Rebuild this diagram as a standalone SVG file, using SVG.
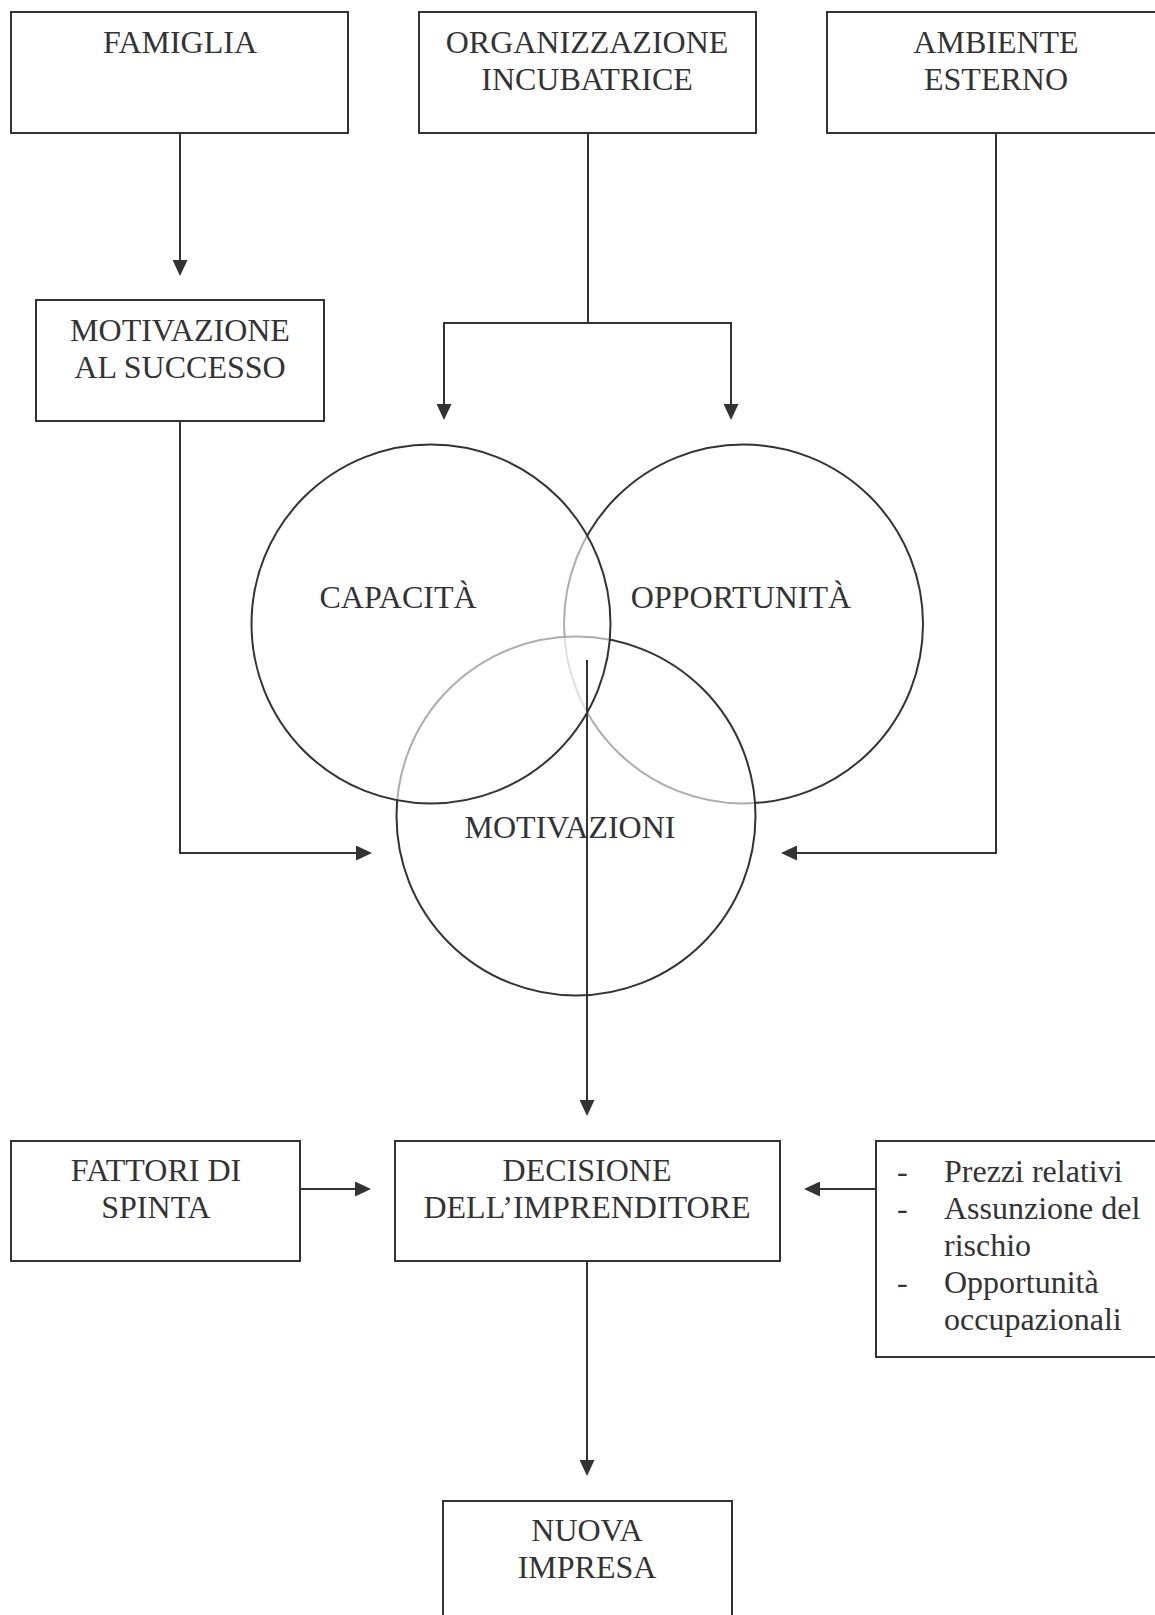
<svg xmlns="http://www.w3.org/2000/svg" width="1155" height="1615" viewBox="0 0 1155 1615">
  <defs>
    <style>
      .box { fill: #ffffff; stroke: #333333; stroke-width: 2; }
      .lbl { font-family: "Liberation Serif", "Times New Roman", serif; font-size: 32px; fill: #333333; text-anchor: middle; }
      .lst { font-family: "Liberation Serif", "Times New Roman", serif; font-size: 32px; fill: #333333; }
      .conn { fill: none; stroke: #333333; stroke-width: 2; }
      .circ { stroke: #333333; stroke-width: 2; }
    </style>
    <marker id="arrow" viewBox="0 0 16 15" refX="0" refY="7.5" markerWidth="16" markerHeight="15" markerUnits="userSpaceOnUse" orient="auto">
      <path d="M0,0 L16,7.5 L0,15 Z" fill="#333333"/>
    </marker>
  </defs>
  <rect width="1155" height="1615" fill="#ffffff"/>

  <g id="famiglia">
    <rect class="box" x="11" y="12" width="337" height="121"/>
    <text class="lbl" x="180" y="53">FAMIGLIA</text>
  </g>
  <g id="organizzazione">
    <rect class="box" x="419" y="12" width="337" height="121"/>
    <text class="lbl" x="587" y="53">ORGANIZZAZIONE</text>
    <text class="lbl" x="587" y="90">INCUBATRICE</text>
  </g>
  <g id="ambiente">
    <rect class="box" x="827" y="12" width="340" height="121"/>
    <text class="lbl" x="996" y="53">AMBIENTE</text>
    <text class="lbl" x="996" y="90">ESTERNO</text>
  </g>
  <g id="motivazione-successo">
    <rect class="box" x="36" y="300" width="288" height="121"/>
    <text class="lbl" x="180" y="341">MOTIVAZIONE</text>
    <text class="lbl" x="180" y="378">AL SUCCESSO</text>
  </g>

  <g id="venn">
    <g id="opportunita">
      <circle class="circ" cx="743.5" cy="624" r="179.5" fill="none"/>
    </g>
    <g id="motivazioni">
      <circle class="circ" cx="576" cy="816" r="179.5" fill="#ffffff" fill-opacity="0.6"/>
    </g>
    <g id="capacita">
      <circle class="circ" cx="431" cy="624" r="179.5" fill="#ffffff" fill-opacity="0.6"/>
    </g>
  </g>

  <g id="fattori">
    <rect class="box" x="11" y="1141" width="289" height="120"/>
    <text class="lbl" x="156" y="1181">FATTORI DI</text>
    <text class="lbl" x="156" y="1218">SPINTA</text>
  </g>
  <g id="decisione">
    <rect class="box" x="395" y="1141" width="385" height="120"/>
    <text class="lbl" x="587" y="1181">DECISIONE</text>
    <text class="lbl" x="587" y="1218">DELL’IMPRENDITORE</text>
  </g>
  <g id="fattori-esterni">
    <rect class="box" x="876" y="1141" width="300" height="216"/>
    <text class="lst" x="897" y="1182">-</text>
    <text class="lst" x="944" y="1182">Prezzi relativi</text>
    <text class="lst" x="897" y="1219">-</text>
    <text class="lst" x="944" y="1219">Assunzione del</text>
    <text class="lst" x="944" y="1256">rischio</text>
    <text class="lst" x="897" y="1293">-</text>
    <text class="lst" x="944" y="1293">Opportunità</text>
    <text class="lst" x="944" y="1330">occupazionali</text>
  </g>
  <g id="nuova-impresa">
    <rect class="box" x="443" y="1501" width="289" height="130"/>
    <text class="lbl" x="587" y="1541">NUOVA</text>
    <text class="lbl" x="587" y="1578">IMPRESA</text>
  </g>

  <g id="connectors">
    <path class="conn" d="M180,133 V260" marker-end="url(#arrow)"/>
    <path class="conn" d="M588,133 V323 H444 V404" marker-end="url(#arrow)"/>
    <path class="conn" d="M588,323 H731 V404" marker-end="url(#arrow)"/>
    <path class="conn" d="M180,421 V853 H356" marker-end="url(#arrow)"/>
    <path class="conn" d="M996,133 V853 H797" marker-end="url(#arrow)"/>
    <path class="conn" d="M587,660 V1100" marker-end="url(#arrow)"/>
    <path class="conn" d="M300,1189 H355" marker-end="url(#arrow)"/>
    <path class="conn" d="M876,1189 H820" marker-end="url(#arrow)"/>
    <path class="conn" d="M587,1261 V1460" marker-end="url(#arrow)"/>
  </g>

  <g id="venn-labels">
    <text class="lbl" x="398" y="608">CAPACITÀ</text>
    <text class="lbl" x="741" y="608">OPPORTUNITÀ</text>
    <text class="lbl" x="570" y="838">MOTIVAZIONI</text>
  </g>
</svg>
